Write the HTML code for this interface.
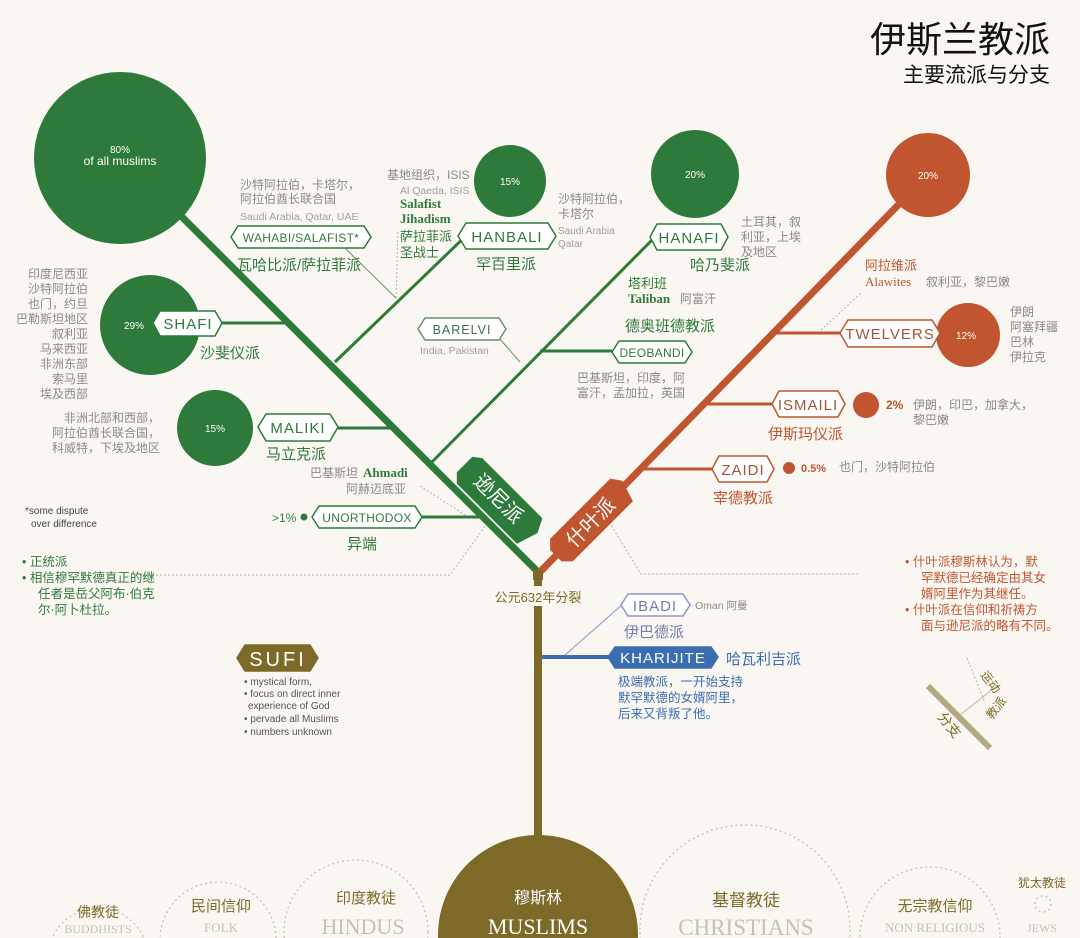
<!DOCTYPE html>
<html><head><meta charset="utf-8"><style>
html,body{margin:0;padding:0;background:#faf7f3;width:1080px;height:938px;overflow:hidden;}
svg{display:block;font-family:"Liberation Sans","Noto Sans CJK SC",sans-serif;}
.g{fill:#2e7a3a}.o{fill:#c0552f}.gr{fill:#8a8a8a}
</style></head><body>
<svg width="1080" height="938" viewBox="0 0 1080 938" xmlns="http://www.w3.org/2000/svg">
<rect width="1080" height="938" fill="#faf7f3"/>
<text x="1050" y="52" text-anchor="end" font-size="36" fill="#111">伊斯兰教派</text>
<text x="1050" y="82" text-anchor="end" font-size="21" fill="#111">主要流派与分支</text>

<g fill="none" stroke="#b9b2a8" stroke-width="1" stroke-dasharray="2,2">
<polyline points="140,575 450,575 488,522"/>
<polyline points="603,512 641,574 858,574"/>
<line x1="396" y1="298" x2="398" y2="230"/>
<line x1="420" y1="486" x2="470" y2="518"/>
<line x1="818" y1="333" x2="862" y2="292"/>
</g>

<line x1="538" y1="570" x2="538" y2="840" stroke="#7d6a28" stroke-width="8"/>
<line x1="175" y1="210" x2="540" y2="574" stroke="#2e7a3a" stroke-width="7"/>
<g stroke="#2e7a3a" stroke-width="3" fill="none">
<line x1="222" y1="323" x2="290" y2="323"/>
<line x1="338" y1="428" x2="393" y2="428"/>
<line x1="422" y1="517" x2="482" y2="517"/>
<line x1="335" y1="362" x2="472" y2="230"/>
<line x1="428" y1="466" x2="652" y2="240"/>
<line x1="540" y1="351" x2="612" y2="351"/>
</g>
<g stroke="#6e8f70" stroke-width="1" fill="none">
<line x1="345" y1="248" x2="396" y2="298"/>
<line x1="492" y1="330" x2="520" y2="362"/>
</g>
<line x1="538" y1="574" x2="905" y2="198" stroke="#c0552f" stroke-width="7"/>
<g stroke="#c0552f" stroke-width="3">
<line x1="775" y1="333" x2="842" y2="333"/>
<line x1="708" y1="404" x2="774" y2="404"/>
<line x1="640" y1="469" x2="714" y2="469"/>
</g>
<line x1="542" y1="657" x2="610" y2="657" stroke="#3a6eb0" stroke-width="4"/>
<line x1="565" y1="655" x2="623" y2="604" stroke="#9aa8cc" stroke-width="1.2"/>

<circle cx="120" cy="158" r="86" class="g"/>
<text x="120" y="153" text-anchor="middle" font-size="10" fill="#fff">80%</text>
<text x="120" y="165" text-anchor="middle" font-size="12" fill="#fff">of all muslims</text>
<circle cx="510" cy="181" r="36" class="g"/>
<text x="510" y="185" text-anchor="middle" font-size="10" fill="#fff">15%</text>
<circle cx="695" cy="174" r="44" class="g"/>
<text x="695" y="178" text-anchor="middle" font-size="10" fill="#fff">20%</text>
<circle cx="150" cy="325" r="50" class="g"/>
<text x="134" y="329" text-anchor="middle" font-size="10" fill="#fff">29%</text>
<circle cx="215" cy="428" r="38" class="g"/>
<text x="215" y="432" text-anchor="middle" font-size="10" fill="#fff">15%</text>
<circle cx="928" cy="175" r="42" class="o"/>
<text x="928" y="179" text-anchor="middle" font-size="10" fill="#fff">20%</text>
<circle cx="968" cy="335" r="32" class="o"/>
<text x="966" y="339" text-anchor="middle" font-size="10" fill="#fff">12%</text>
<circle cx="866" cy="405" r="13" class="o"/>
<circle cx="789" cy="468" r="6" class="o"/>
<circle cx="304" cy="517" r="3.5" class="g"/>

<g stroke-width="1.5" fill="#fff" font-size="15" letter-spacing="1">
<polygon stroke="#2e7a3a" points="231,237 238,226 364,226 371,237 364,248 238,248"/>
<text x="301" y="242" text-anchor="middle" font-size="12" letter-spacing="0.3" fill="#2e7a3a" stroke="none">WAHABI/SALAFIST*</text>
<polygon stroke="#2e7a3a" points="458,236 466,223 548,223 556,236 548,249 466,249"/>
<text x="507" y="242" text-anchor="middle" fill="#2e7a3a" stroke="none">HANBALI</text>
<polygon stroke="#2e7a3a" points="650,237 657,224 721,224 728,237 721,250 657,250"/>
<text x="689" y="243" text-anchor="middle" fill="#2e7a3a" stroke="none">HANAFI</text>
<polygon stroke="#2e7a3a" points="153,323 160,311 215,311 222,323 215,336 160,336"/>
<text x="188" y="329" text-anchor="middle" fill="#2e7a3a" stroke="none">SHAFI</text>
<polygon stroke="#2e7a3a" points="258,427 266,414 330,414 338,427 330,441 266,441"/>
<text x="298" y="433" text-anchor="middle" fill="#2e7a3a" stroke="none">MALIKI</text>
<polygon stroke="#6e8f70" points="418,329 425,318 499,318 506,329 499,340 425,340"/>
<text x="462" y="334" text-anchor="middle" font-size="12.5" fill="#3d6f45" stroke="none">BARELVI</text>
<polygon stroke="#2e7a3a" points="612,352 619,341 685,341 692,352 685,363 619,363"/>
<text x="652" y="357" text-anchor="middle" font-size="12" letter-spacing="0.3" fill="#2e7a3a" stroke="none">DEOBANDI</text>
<polygon stroke="#2e7a3a" points="312,517 319,506 415,506 422,517 415,528 319,528"/>
<text x="367" y="522" text-anchor="middle" font-size="12" letter-spacing="0.3" fill="#2e7a3a" stroke="none">UNORTHODOX</text>
<polygon stroke="#c0552f" points="840,333 848,320 932,320 940,333 932,347 848,347"/>
<text x="890" y="339" text-anchor="middle" fill="#a0553a" stroke="none">TWELVERS</text>
<polygon stroke="#c0552f" points="772,404 779,391 838,391 845,404 838,417 779,417"/>
<text x="808" y="410" text-anchor="middle" fill="#a0553a" stroke="none">ISMAILI</text>
<polygon stroke="#c0552f" points="712,469 719,456 767,456 774,469 767,482 719,482"/>
<text x="743" y="475" text-anchor="middle" fill="#a0553a" stroke="none">ZAIDI</text>
<polygon stroke="#8a9ac4" points="621,605 628,594 683,594 690,605 683,616 628,616"/>
<text x="655" y="611" text-anchor="middle" fill="#6f80b0" stroke="none">IBADI</text>
<polygon stroke="#3a6eb0" fill="#3a6eb0" points="608,657 615,647 711,647 718,657 711,668 615,668"/>
<text x="663" y="663" text-anchor="middle" fill="#fff" stroke="none">KHARIJITE</text>
<polygon stroke="#7d6a28" fill="#7d6a28" points="237,658 245,645 310,645 318,658 310,671 245,671"/>
<text x="278" y="666" text-anchor="middle" font-size="20" fill="#fff" stroke="none" letter-spacing="3">SUFI</text>
</g>

<g transform="translate(495,502) rotate(45)">
<polygon points="-48,-16 -40,-22 45,-22 52,-8 45,14 -40,14 -48,6" fill="#2e7a3a"/>
<text x="0" y="2" text-anchor="middle" font-size="20" fill="#fff">逊尼派</text>
</g>
<g transform="translate(594,526) rotate(-45)">
<polygon points="-48,-14 -40,-22 45,-22 52,-12 45,10 -40,10 -48,2" fill="#c0552f"/>
<text x="0" y="2" text-anchor="middle" font-size="20" fill="#fff">什叶派</text>
</g>
<rect x="533" y="570" width="10" height="10" fill="#7d6a28"/>
<rect x="490" y="586" width="96" height="20" fill="#faf7f3"/>
<text x="538" y="602" text-anchor="middle" font-size="13" fill="#7d6a28">公元632年分裂</text>

<g font-size="12" fill="#8a8a8a">
<text x="240" y="189">沙特阿拉伯，卡塔尔，</text>
<text x="240" y="203">阿拉伯酋长联合国</text>
<text x="240" y="220" font-size="10.5" fill="#a0a0a0">Saudi Arabia, Qatar, UAE</text>
<text x="387" y="179">基地组织，ISIS</text>
<text x="400" y="194" font-size="10.5" fill="#a0a0a0">Al Qaeda, ISIS</text>
<text x="558" y="203">沙特阿拉伯，</text>
<text x="558" y="218">卡塔尔</text>
<text x="558" y="234" font-size="10" fill="#a0a0a0">Saudi Arabia</text>
<text x="558" y="247" font-size="10" fill="#a0a0a0">Qatar</text>
<text x="741" y="226">土耳其，叙</text>
<text x="741" y="241">利亚，上埃</text>
<text x="741" y="256">及地区</text>
<text x="680" y="303">阿富汗</text>
<text x="420" y="354" font-size="10.5" fill="#a0a0a0">India, Pakistan</text>
<text x="577" y="382">巴基斯坦，印度，阿</text>
<text x="577" y="397">富汗，孟加拉，英国</text>
<g text-anchor="end">
<text x="88" y="278">印度尼西亚</text><text x="88" y="293">沙特阿拉伯</text><text x="88" y="308">也门，约旦</text>
<text x="88" y="323">巴勒斯坦地区</text><text x="88" y="338">叙利亚</text><text x="88" y="353">马来西亚</text>
<text x="88" y="368">非洲东部</text><text x="88" y="383">索马里</text><text x="88" y="398">埃及西部</text>
<text x="160" y="422">非洲北部和西部，</text><text x="160" y="437">阿拉伯酋长联合国，</text><text x="160" y="452">科威特，下埃及地区</text>
</g>
<text x="310" y="477">巴基斯坦</text>
<text x="346" y="493">阿赫迈底亚</text>
</g>
<g class="g" font-size="15">
<text x="237" y="270">瓦哈比派/萨拉菲派</text>
<text x="476" y="269">罕百里派</text>
<text x="690" y="270">哈乃斐派</text>
<text x="200" y="358">沙斐仪派</text>
<text x="266" y="459">马立克派</text>
<text x="625" y="331">德奥班德教派</text>
<text x="347" y="549">异端</text>
<text x="400" y="241" font-size="13">萨拉菲派</text>
<text x="400" y="257" font-size="13">圣战士</text>
<text x="628" y="288" font-size="13">塔利班</text>
</g>
<g font-family="Liberation Serif,serif" font-weight="bold" class="g" font-size="13">
<text x="400" y="208">Salafist</text>
<text x="400" y="223">Jihadism</text>
<text x="628" y="303">Taliban</text>
<text x="363" y="477">Ahmadi</text>
<text x="865" y="286" class="o" font-weight="normal">Alawites</text>
</g>
<text x="272" y="522" font-size="12" class="g">&gt;1%</text>
<text x="25" y="514" font-size="10" fill="#444">*some dispute</text>
<text x="31" y="527" font-size="10" fill="#444">over difference</text>
<g font-size="12.5" class="g">
<text x="22" y="566">•  正统派</text>
<text x="22" y="582">•  相信穆罕默德真正的继</text>
<text x="38" y="598">任者是岳父阿布·伯克</text>
<text x="38" y="614">尔·阿卜杜拉。</text>
</g>

<g font-size="12" fill="#8a8a8a">
<text x="926" y="286">叙利亚，黎巴嫩</text>
<text x="1010" y="316">伊朗</text><text x="1010" y="331">阿塞拜疆</text><text x="1010" y="346">巴林</text><text x="1010" y="361">伊拉克</text>
<text x="913" y="409">伊朗，印巴，加拿大，</text><text x="913" y="424">黎巴嫩</text>
<text x="839" y="471">也门，沙特阿拉伯</text>
<text x="695" y="609" font-size="10.5">Oman  阿曼</text>
</g>
<g class="o">
<text x="865" y="270" font-size="13">阿拉维派</text>
<text x="886" y="409" font-size="12" font-weight="bold">2%</text>
<text x="801" y="472" font-size="11" font-weight="bold">0.5%</text>
<text x="768" y="439" font-size="15">伊斯玛仪派</text>
<text x="713" y="503" font-size="15">宰德教派</text>
</g>
<g font-size="12.5" class="o">
<text x="905" y="566">•  什叶派穆斯林认为，默</text>
<text x="921" y="582">罕默德已经确定由其女</text>
<text x="921" y="598">婿阿里作为其继任。</text>
<text x="905" y="614">•  什叶派在信仰和祈祷方</text>
<text x="921" y="630">面与逊尼派的略有不同。</text>
</g>

<text x="624" y="637" font-size="15" fill="#6f80b0">伊巴德派</text>
<text x="726" y="664" font-size="15" fill="#3a6eb0">哈瓦利吉派</text>
<g font-size="12.5" fill="#3a6eb0">
<text x="618" y="686">极端教派，一开始支持</text>
<text x="618" y="702">默罕默德的女婿阿里，</text>
<text x="618" y="718">后来又背叛了他。</text>
</g>

<g font-size="10" fill="#555">
<text x="244" y="685">• mystical form,</text>
<text x="244" y="697">• focus on direct inner</text>
<text x="248" y="709">experience of God</text>
<text x="244" y="722">• pervade all Muslims</text>
<text x="244" y="735">• numbers unknown</text>
</g>

<line x1="928" y1="686" x2="990" y2="748" stroke="#b5a882" stroke-width="6"/>
<line x1="960" y1="715" x2="998" y2="685" stroke="#c9c2b3" stroke-width="1.2"/>
<line x1="967" y1="658" x2="985" y2="703" stroke="#b9b2a8" stroke-width="1" stroke-dasharray="2,2"/>
<text transform="translate(980,675) rotate(52)" font-size="12" fill="#7d6a28">运动</text>
<text transform="translate(992,720) rotate(-52)" font-size="12" fill="#7d6a28">教派</text>
<text transform="translate(937,717) rotate(52)" font-size="14" fill="#7d6a28">分支</text>

<g fill="none" stroke="#c9c0b0" stroke-width="1.3" stroke-dasharray="2,3">
<circle cx="98" cy="958" r="50"/>
<circle cx="218" cy="940" r="58"/>
<circle cx="356" cy="932" r="72"/>
<circle cx="745" cy="930" r="105"/>
<circle cx="930" cy="937" r="70"/>
<circle cx="1043" cy="904" r="8"/>
</g>
<circle cx="538" cy="935" r="100" fill="#7d6a28"/>
<g text-anchor="middle">
<text x="98" y="917" font-size="14" fill="#7d6a28">佛教徒</text>
<text x="98" y="933" font-size="12" fill="#c9c0b0" font-family="Liberation Serif,serif">BUDDHISTS</text>
<text x="221" y="911" font-size="15" fill="#7d6a28">民间信仰</text>
<text x="221" y="932" font-size="13" fill="#c9c0b0" font-family="Liberation Serif,serif">FOLK</text>
<text x="366" y="903" font-size="15" fill="#7d6a28">印度教徒</text>
<text x="363" y="934" font-size="22" fill="#c9c0b0" font-family="Liberation Serif,serif">HINDUS</text>
<text x="538" y="903" font-size="16" fill="#fff">穆斯林</text>
<text x="538" y="934" font-size="22" fill="#fff" font-family="Liberation Serif,serif">MUSLIMS</text>
<text x="746" y="906" font-size="17" fill="#7d6a28">基督教徒</text>
<text x="746" y="935" font-size="23" fill="#c9c0b0" font-family="Liberation Serif,serif">CHRISTIANS</text>
<text x="935" y="911" font-size="15" fill="#7d6a28">无宗教信仰</text>
<text x="935" y="932" font-size="13" fill="#c9c0b0" font-family="Liberation Serif,serif">NON RELIGIOUS</text>
<text x="1042" y="887" font-size="12" fill="#7d6a28">犹太教徒</text>
<text x="1042" y="932" font-size="12" fill="#c9c0b0" font-family="Liberation Serif,serif">JEWS</text>
</g>
</svg>
</body></html>
